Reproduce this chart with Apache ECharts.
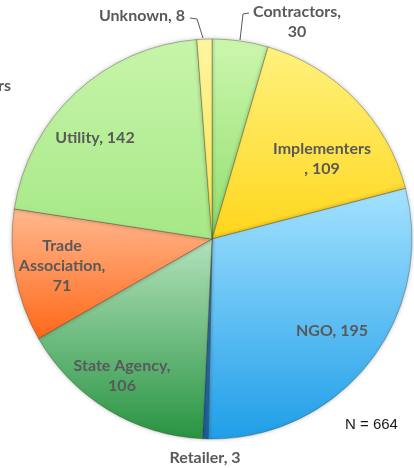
<!DOCTYPE html>
<html>
<head>
<meta charset="utf-8">
<script src="https://cdn.jsdelivr.net/npm/echarts@6/dist/echarts.min.js"></script>
<style>
  html, body { margin: 0; padding: 0; background: #fff; }
  #chart { width: 414px; height: 468px; }
</style>
</head>
<body>
<div id="chart"></div>
<script>
// 数据（顺时针，从12点方向开始）
const categories = ["Contractors", "Implementers", "NGO", "Retailer", "State Agency", "Trade Association", "Utility", "Unknown"];
const counts = [30, 109, 195, 3, 106, 71, 142, 8];
const labelTexts = ["Contractors,\n30", "Implementers\n, 109", "NGO, 195", "Retailer, 3", "State Agency,\n106", "Trade\nAssociation,\n71", "Utility, 142", "Unknown, 8"];
const totalText = "N = 664";

// 每块的渐变色（上 -> 下）
const sliceColors = [
  ["#ccf7ae", "#92de6c"],
  ["#fff27e", "#ffd61c"],
  ["#a4e2ff", "#1f9ee8"],
  ["#3a80c0", "#1c5e9e"],
  ["#b4e2bc", "#289442"],
  ["#ffb890", "#ff6818"],
  ["#c8f5aa", "#a6e886"],
  ["#fff6a0", "#ffe64c"],
];

// 标签位置（布局用）
const labelPos = [
  [297, 22], [322, 159], [332, 331], [205, 458],
  [122, 376], [62, 266], [95, 138], [142, 16],
];
// 引导线折点（布局用）
const guidePts = {
  0: [[240, 40], [243, 14], [249, 13]],
  7: [[203, 38], [197, 19], [190, 18]],
};
const outsideIdx = [0, 3, 7];

const chart = echarts.init(document.getElementById("chart"));

const seriesData = categories.map((name, i) => ({
  name,
  value: counts[i],
  itemStyle: {
    color: new echarts.graphic.LinearGradient(0, 0, 0, 1, [
      { offset: 0, color: sliceColors[i][0] },
      { offset: 1, color: sliceColors[i][1] },
    ]),
  },
  label: {
    position: outsideIdx.includes(i) ? "outside" : "inside",
  },
  labelLine: { show: i === 0 || i === 7 },
}));

chart.setOption({
  animation: false,
  series: [
    {
      type: "pie",
      center: [212, 239],
      radius: 200,
      startAngle: 90,
      clockwise: true,
      data: seriesData,
      itemStyle: {
        borderColor: "rgba(60,60,40,0.35)",
        borderWidth: 1,
        shadowColor: "rgba(0,0,0,0.25)",
        shadowBlur: 4,
      },
      label: {
        formatter: (p) => labelTexts[p.dataIndex],
        color: "#595959",
        fontFamily: "Lato",
        fontWeight: "bold",
        fontSize: 16,
        lineHeight: 20,
        align: "center",
      },
      labelLine: {
        lineStyle: { color: "#595959", width: 1 },
        length: 10,
        length2: 10,
      },
      labelLayout: (params) => {
        const i = params.dataIndex;
        const p = labelPos[i];
        const out = { x: p[0], y: p[1], align: "center", verticalAlign: "middle" };
        if (guidePts[i]) out.labelLinePoints = guidePts[i];
        return out;
      },
    },
  ],
  graphic: [
    {
      type: "text",
      left: 345,
      top: 417,
      style: { text: totalText, fill: "#1a1a1a", font: "15px 'Liberation Sans'" },
    },
    {
      type: "text",
      left: -2,
      top: 78,
      style: { text: "rs", fill: "#595959", font: "bold 16px Lato" },
    },
  ],
});
</script>
</body>
</html>
